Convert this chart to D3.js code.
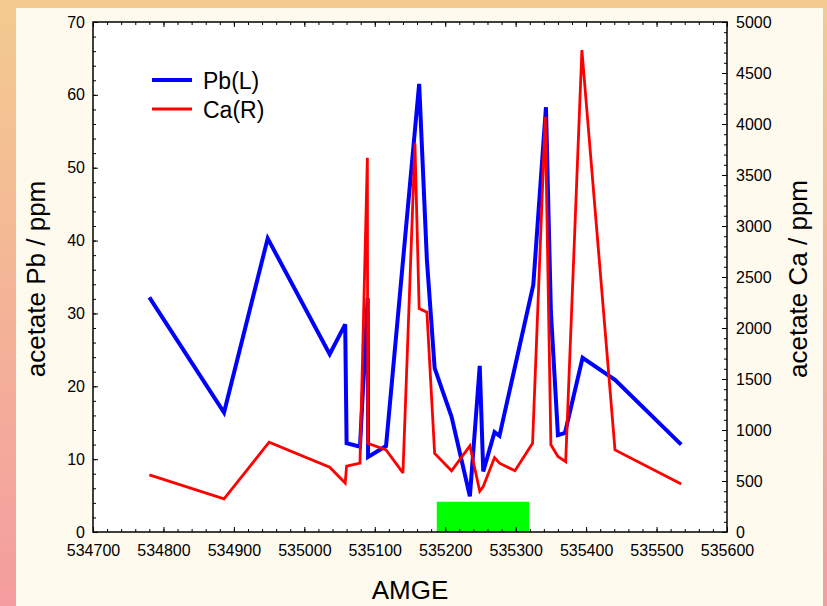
<!DOCTYPE html>
<html>
<head>
<meta charset="utf-8">
<script src="https://cdn.jsdelivr.net/npm/d3@7"></script>
<style>
  html, body { margin: 0; padding: 0; }
  body { width: 827px; height: 606px; overflow: hidden; }
  text { font-family: "Liberation Sans", Arial, sans-serif; fill: #000; }
</style>
</head>
<body>
<figure style="margin:0"></figure>
<script>
// AMGE positions (shared by both series where sampled together)
const pbAmge = [534780, 534886, 534948, 535036, 535058, 535060, 535079, 535090, 535090.5,
  535116, 535163, 535174, 535185, 535209, 535235, 535249, 535254, 535270, 535277,
  535325, 535343, 535350, 535360, 535370, 535395, 535441, 535535];
const pbValues = [32.2, 16.4, 40.3, 24.4, 28.5, 12.2, 11.7, 32.1, 10.3,
  11.8, 61.5, 37.3, 22.5, 15.8, 4.9, 22.8, 8.3, 13.7, 13.2,
  33.9, 58.3, 30.2, 13.3, 13.6, 23.9, 20.9, 12.0];

const caAmge = [534780, 534886, 534950, 535036, 535058, 535060, 535079, 535089.5, 535090,
  535116, 535140, 535157, 535163, 535174, 535185, 535209, 535235, 535249, 535254,
  535270, 535277, 535299, 535324, 535342, 535350, 535360, 535371, 535394, 535441, 535535];
const caValues = [560, 325, 880, 635, 480, 645, 675, 3670, 870,
  805, 580, 3810, 2190, 2155, 770, 600, 845, 400, 445,
  730, 675, 600, 870, 4070, 855, 740, 690, 4725, 805, 470];

// green marker band along the AMGE axis
const bandAmge = [535188, 535319];
const bandPb = 4.15;

const xTicks = d3.range(534700, 535601, 100);
const xMinor = d3.range(534700, 535601, 20);
const pbTicks = d3.range(0, 71, 10);
const pbMinor = d3.range(0, 71, 2);
const caTicks = d3.range(0, 5001, 500);
const caMinor = d3.range(0, 5001, 100);

const legendItems = [
  { name: "Pb(L)", color: "#0000ff", width: 4 },
  { name: "Ca(R)", color: "#ff0000", width: 2.8 },
];

const draw = () => {
  const width = 827;
  const height = 606;
  const plot = { left: 93, right: 727, top: 22, bottom: 532 };

  const svg = d3.select("figure").append("svg")
    .attr("width", width).attr("height", height);

  const defs = svg.append("defs");
  const grad = defs.append("linearGradient")
    .attr("id", "frame").attr("x1", 0).attr("y1", 0).attr("x2", 0).attr("y2", 1);
  grad.append("stop").attr("offset", "0%").attr("stop-color", "#f3cb8f");
  grad.append("stop").attr("offset", "100%").attr("stop-color", "#f49d9f");

  svg.append("rect").attr("width", width).attr("height", height).attr("fill", "url(#frame)");
  svg.append("rect").attr("x", 16).attr("y", 8).attr("width", 807).attr("height", height - 8)
    .attr("fill", "#fffaee");
  svg.append("rect")
    .attr("x", plot.left).attr("y", plot.top)
    .attr("width", plot.right - plot.left).attr("height", plot.bottom - plot.top)
    .attr("fill", "#ffffff");

  const x = d3.scaleLinear().domain([534700, 535600]).range([plot.left, plot.right]);
  const yPb = d3.scaleLinear().domain([0, 70]).range([plot.bottom, plot.top]);
  const yCa = d3.scaleLinear().domain([0, 5000]).range([plot.bottom, plot.top]);

  // green band
  svg.append("rect")
    .attr("x", x(bandAmge[0]))
    .attr("y", yPb(bandPb))
    .attr("width", x(bandAmge[1]) - x(bandAmge[0]))
    .attr("height", yPb(0) - yPb(bandPb))
    .attr("fill", "#00ff00");

  const clip = defs.append("clipPath").attr("id", "plot-clip");
  clip.append("rect")
    .attr("x", plot.left).attr("y", plot.top)
    .attr("width", plot.right - plot.left).attr("height", plot.bottom - plot.top);

  const lines = svg.append("g").attr("clip-path", "url(#plot-clip)");

  const caLine = d3.line().x((d) => x(d[0])).y((d) => yCa(d[1]));
  const pbLine = d3.line().x((d) => x(d[0])).y((d) => yPb(d[1]));

  lines.append("path")
    .attr("d", pbLine(d3.zip(pbAmge, pbValues)))
    .attr("fill", "none")
    .attr("stroke", legendItems[0].color)
    .attr("stroke-width", legendItems[0].width)
    .attr("stroke-linejoin", "miter")
    .attr("stroke-miterlimit", 3);

  lines.append("path")
    .attr("d", caLine(d3.zip(caAmge, caValues)))
    .attr("fill", "none")
    .attr("stroke", legendItems[1].color)
    .attr("stroke-width", legendItems[1].width)
    .attr("stroke-linejoin", "miter")
    .attr("stroke-miterlimit", 3);

  // axes: major ticks with labels, minor ticks without; all pointing inward
  function axis(gen, transform, values, size, labels, padding) {
    const g = svg.append("g")
      .attr("transform", transform)
      .call(gen.tickValues(values).tickSize(size).tickPadding(padding)
        .tickFormat(labels ? d3.format("d") : ""));
    g.select(".domain").remove();
    g.selectAll("line").attr("stroke", "#000").attr("stroke-width", 1);
    g.selectAll("text")
      .attr("font-size", 16)
      .attr("font-family", "Liberation Sans, Arial, sans-serif");
    return g;
  }

  axis(d3.axisBottom(x), `translate(0,${plot.bottom})`, xMinor, -3, false, 0);
  axis(d3.axisBottom(x), `translate(0,${plot.bottom})`, xTicks, -5, true, 13);
  axis(d3.axisTop(x), `translate(0,${plot.top})`, xMinor, -3, false, 0);
  axis(d3.axisTop(x), `translate(0,${plot.top})`, xTicks, -5, false, 0);

  axis(d3.axisLeft(yPb), `translate(${plot.left},0)`, pbMinor, -3, false, 0);
  axis(d3.axisLeft(yPb), `translate(${plot.left},0)`, pbTicks, -5, true, 8);
  axis(d3.axisRight(yCa), `translate(${plot.right},0)`, caMinor, -3, false, 0);
  axis(d3.axisRight(yCa), `translate(${plot.right},0)`, caTicks, -5, true, 9);

  svg.append("rect")
    .attr("x", plot.left).attr("y", plot.top)
    .attr("width", plot.right - plot.left).attr("height", plot.bottom - plot.top)
    .attr("fill", "none").attr("stroke", "#000").attr("stroke-width", 1.5);

  // axis titles
  svg.append("text")
    .attr("transform", `translate(${(plot.left + plot.right) / 2},599)`)
    .attr("text-anchor", "middle").attr("font-size", 26)
    .text("AMGE");
  svg.append("text")
    .attr("transform", "translate(45,279) rotate(-90)")
    .attr("text-anchor", "middle").attr("font-size", 26)
    .text("acetate Pb / ppm");
  svg.append("text")
    .attr("transform", "translate(807,279) rotate(-90)")
    .attr("text-anchor", "middle").attr("font-size", 26)
    .text("acetate Ca / ppm");

  // legend
  const legend = svg.append("g")
    .selectAll("g")
    .data(legendItems)
    .join("g")
    .attr("transform", (_, i) => `translate(152,${80 + i * 29})`);
  legend.append("line")
    .attr("x1", 0).attr("x2", 40)
    .attr("stroke", (d) => d.color)
    .attr("stroke-width", (d) => d.width);
  legend.append("text")
    .attr("x", 51).attr("y", 9)
    .attr("font-size", 23)
    .text((d) => d.name);
};

window.onload = draw;
</script>
</body>
</html>
